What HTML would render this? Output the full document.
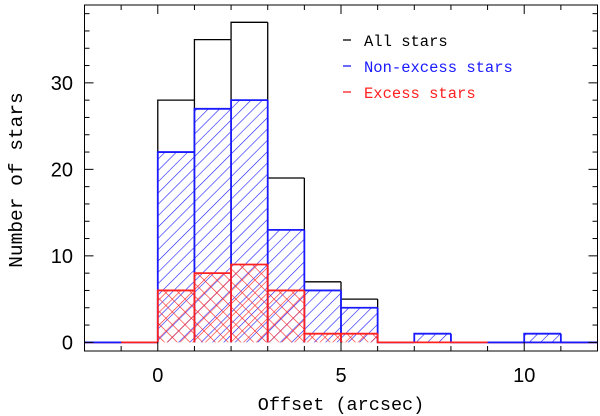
<!DOCTYPE html>
<html><head><meta charset="utf-8"><style>
html,body{margin:0;padding:0;background:#fff;width:600px;height:416px;overflow:hidden}
svg text{font-family:"Liberation Mono",monospace}
</style></head><body>
<svg id="chart" width="600" height="416" viewBox="0 0 600 416" xmlns="http://www.w3.org/2000/svg">
<defs>
<pattern id="hatchBlue" patternUnits="userSpaceOnUse" width="8" height="8" patternTransform="rotate(45)">
<line x1="0" y1="0" x2="0" y2="8" stroke="#1a1aff" stroke-width="1.2"/></pattern>
<pattern id="hatchRedA" patternUnits="userSpaceOnUse" width="9" height="9" patternTransform="rotate(45)">
<line x1="0" y1="0" x2="0" y2="9" stroke="#ff2020" stroke-width="1.2"/></pattern>
<pattern id="hatchRedB" patternUnits="userSpaceOnUse" width="9" height="9" patternTransform="rotate(-45)">
<line x1="0" y1="0" x2="0" y2="9" stroke="#ff2020" stroke-width="1.2"/></pattern>
</defs>
<g id="marks"></g>
<g id="axes"></g>
<text x="341" y="410" text-anchor="middle" font-size="18.5" fill="#000">Offset (arcsec)</text>
<text transform="translate(22,180) rotate(-90)" text-anchor="middle" font-size="19.5" fill="#000">Number of stars</text>
<g font-size="15.5">
<g><line x1="343" y1="40" x2="351" y2="40" stroke="#000" stroke-width="1.3"/><text x="364" y="46" fill="#000">All stars</text></g>
<g><line x1="343" y1="66" x2="351" y2="66" stroke="#1a1aff" stroke-width="1.3"/><text x="364" y="72" fill="#1a1aff">Non-excess stars</text></g>
<g><line x1="343" y1="92" x2="351" y2="92" stroke="#ff2020" stroke-width="1.3"/><text x="364" y="98" fill="#ff2020">Excess stars</text></g>
</g>
</svg>
<script>
const binEdges = [-2,-1,0,1,2,3,4,5,6,7,8,9,10,11,12];
const allStars = [0,0,28,35,37,19,7,5,0,1,0,0,1,0];
const nonExcess = [0,0,22,27,28,13,6,4,0,1,0,0,1,0];
const excess = [0,0,6,8,9,6,1,1,0,0,0,0,0,0];
const xTicksMajor = [0,5,10];
const yTicksMajor = [0,10,20,30];
const xDomain = [-2,12], yDomain = [-1,39];
const L=84.5,R=597.5,T=5,B=351;
const sx=v=>L+(v-xDomain[0])/(xDomain[1]-xDomain[0])*(R-L);
const sy=v=>B-(v-yDomain[0])/(yDomain[1]-yDomain[0])*(B-T);
const NS="http://www.w3.org/2000/svg";
const marks=document.getElementById('marks'), axes=document.getElementById('axes');
function mk(tag,attrs,parent){const e=document.createElementNS(NS,tag);for(const k in attrs)e.setAttribute(k,attrs[k]);parent.appendChild(e);return e;}
function fillBars(vals,fill,name){
  vals.forEach((v,i)=>{ if(v<=0) return;
    const r=mk('rect',{x:sx(binEdges[i]),y:sy(v),width:sx(binEdges[i+1])-sx(binEdges[i]),height:sy(0)-sy(v),fill:fill,stroke:'none'},marks);
    
    
  });
}
function outline(vals,color,name,w){
  vals.forEach((v,i)=>{
    const x0=sx(binEdges[i]),x1=sx(binEdges[i+1]);
    const prev=i>0?vals[i-1]:0;
    let d='M'+x0+','+sy(prev)+'L'+x0+','+sy(v)+'L'+x1+','+sy(v);
    if(i===vals.length-1) d+='L'+x1+','+sy(0);
    const p=mk('path',{d:d,fill:'none',stroke:color,'stroke-width':w},marks);
    
    
  });
  vals.forEach((v,i)=>{ if(i===0) return; const m=Math.min(v,vals[i-1]); if(m>0){
    const l=mk('line',{x1:sx(binEdges[i]),x2:sx(binEdges[i]),y1:sy(0),y2:sy(m),stroke:color,'stroke-width':w},marks);
    
    
  }});
}
fillBars(nonExcess,'url(#hatchBlue)','non-excess');
fillBars(excess,'url(#hatchRedA)','excess');
fillBars(excess,'url(#hatchRedB)','excess-cross');
outline(allStars,'#000','all-stars',1.3);
outline(nonExcess,'#1a1aff','non-excess',1.8);
outline(excess,'#ff2020','excess',1.8);
[[-2,-1],[9,12]].forEach(s=>{
  const l=mk('line',{x1:sx(s[0]),x2:sx(s[1]),y1:sy(0),y2:sy(0),stroke:'#1a1aff','stroke-width':1.8},marks);
  
  
});
const f=mk('rect',{x:L,y:T,width:R-L,height:B-T,fill:'none',stroke:'#000','stroke-width':1},axes);


for(let x=-2;x<=12;x++){const maj=x%5===0;const len=maj?9:5;
  mk('line',{x1:sx(x),x2:sx(x),y1:B,y2:B-len,stroke:'#000'},axes);
  mk('line',{x1:sx(x),x2:sx(x),y1:T,y2:T+len,stroke:'#000'},axes);}
for(let y=0;y<=38;y+=2){const maj=y%10===0;const len=maj?9:5;
  mk('line',{x1:L,x2:L+len,y1:sy(y),y2:sy(y),stroke:'#000'},axes);
  mk('line',{x1:R,x2:R-len,y1:sy(y),y2:sy(y),stroke:'#000'},axes);}
xTicksMajor.forEach(v=>{const t=mk('text',{x:sx(v),y:382,'text-anchor':'middle','font-size':20,fill:'#000',style:'font-family:"Liberation Sans",sans-serif'},axes);t.textContent=v;
  
  });
yTicksMajor.forEach(v=>{const t=mk('text',{x:73,y:sy(v)+7,'text-anchor':'end','font-size':20,fill:'#000',style:'font-family:"Liberation Sans",sans-serif'},axes);t.textContent=v;
  
  });
</script>
</body></html>
